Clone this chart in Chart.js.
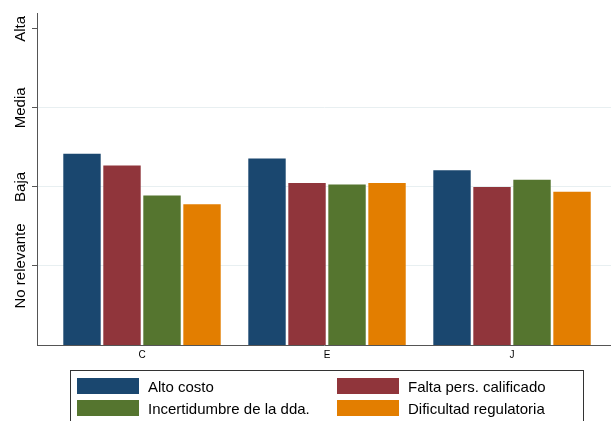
<!DOCTYPE html>
<html>
<head>
<meta charset="utf-8">
<script src="https://cdn.jsdelivr.net/npm/chart.js@4/dist/chart.umd.min.js"></script>
<style>
  html, body { margin: 0; padding: 0; background: #fff; }
  #wrap { position: relative; width: 611px; height: 421px; overflow: hidden; }
  canvas { position: absolute; left: 0; top: 0; }
  #legend {
    position: absolute; left: 70px; top: 370px; width: 514px; height: 70px;
    border: 1px solid #333; box-sizing: border-box;
    font-family: "Liberation Sans", Arial, sans-serif; font-size: 15px; color: #000;
  }
  .item { position: absolute; height: 17px; line-height: 17px; white-space: nowrap; }
  .sw { position: absolute; left: 0; top: 0; width: 62px; height: 16px; }
  .lbl { position: absolute; left: 71px; top: 0; }
</style>
</head>
<body>
<div id="wrap">
  <canvas id="c" width="611" height="421"></canvas>
  <div id="legend"></div>
</div>
<script>
const categories = ["C", "E", "J"];
const seriesNames = ["Alto costo", "Falta pers. calificado", "Incertidumbre de la dda.", "Dificultad regulatoria"];
const altoCosto = [2.42, 2.36, 2.21];
const faltaPers = [2.27, 2.05, 2.00];
const incertidumbre = [1.89, 2.03, 2.09];
const dificultad = [1.78, 2.05, 1.94];
const yTickValues = [1, 2, 3, 4];
const yTickLabels = ["No relevante", "Baja", "Media", "Alta"];
const colors = ["#1a476f", "#90353b", "#55752f", "#e37e00"];

const seriesValues = [altoCosto, faltaPers, incertidumbre, dificultad];
const datasets = seriesValues.map((vals, i) => ({
  label: seriesNames[i],
  data: vals.map((v, j) => ({ x: j, y: v })),
  backgroundColor: colors[i],
  borderColor: colors[i],
  borderWidth: 0,
  categoryPercentage: 0.865,
  barPercentage: 0.935
}));

const yLabelPlugin = {
  id: 'yLabels',
  afterDraw(chart) {
    const ctx = chart.ctx;
    const ys = chart.scales.y;
    ctx.save();
    ctx.font = '15px "Liberation Sans", Arial, sans-serif';
    ctx.fillStyle = '#000';
    ctx.textAlign = 'center';
    ctx.textBaseline = 'alphabetic';
    yTickValues.forEach((v, i) => {
      const py = ys.getPixelForValue(v);
      ctx.save();
      ctx.translate(25, py);
      ctx.rotate(-Math.PI / 2);
      ctx.fillText(yTickLabels[i], 0, 0);
      ctx.restore();
    });
    ctx.restore();
  }
};

new Chart(document.getElementById('c'), {
  type: 'bar',
  data: { datasets },
  options: {
    responsive: false,
    animation: false,
    layout: { padding: { left: 32, top: 13, right: 0, bottom: 56 } },
    plugins: { legend: { display: false }, tooltip: { enabled: false } },
    scales: {
      x: {
        type: 'linear',
        offset: false,
        min: -0.5676,
        max: 2.535,
        afterBuildTicks(scale) { scale.ticks = categories.map((c, i) => ({ value: i })); },
        ticks: {
          callback: (v) => categories[v],
          font: { family: '"Liberation Sans", Arial, sans-serif', size: 10 },
          color: '#000',
          padding: 4,
          maxRotation: 0,
          autoSkip: false
        },
        grid: { display: false, drawTicks: false },
        border: { display: true, color: '#555', width: 1 }
      },
      y: {
        min: 0,
        max: 4.2,
        afterBuildTicks(scale) { scale.ticks = yTickValues.map(v => ({ value: v })); },
        ticks: { display: false },
        grid: {
          color: (c) => (c.tick && c.tick.value < 4) ? '#e8eff1' : 'rgba(0,0,0,0)',
          lineWidth: 1,
          tickColor: '#555',
          tickLength: 5,
          drawTicks: true
        },
        border: { display: true, color: '#555', width: 1 }
      }
    }
  },
  plugins: [yLabelPlugin]
});

const legend = document.getElementById('legend');
const pos = [[6, 7], [266, 7], [6, 29], [266, 29]];
[0, 1, 2, 3].forEach((i, k) => {
  const d = document.createElement('div');
  d.className = 'item';
  d.style.left = pos[k][0] + 'px';
  d.style.top = pos[k][1] + 'px';
  d.innerHTML = '<span class="sw" style="background:' + colors[i] + '"></span><span class="lbl"></span>';
  d.querySelector('.lbl').textContent = seriesNames[i];
  legend.appendChild(d);
});
</script>
</body>
</html>
